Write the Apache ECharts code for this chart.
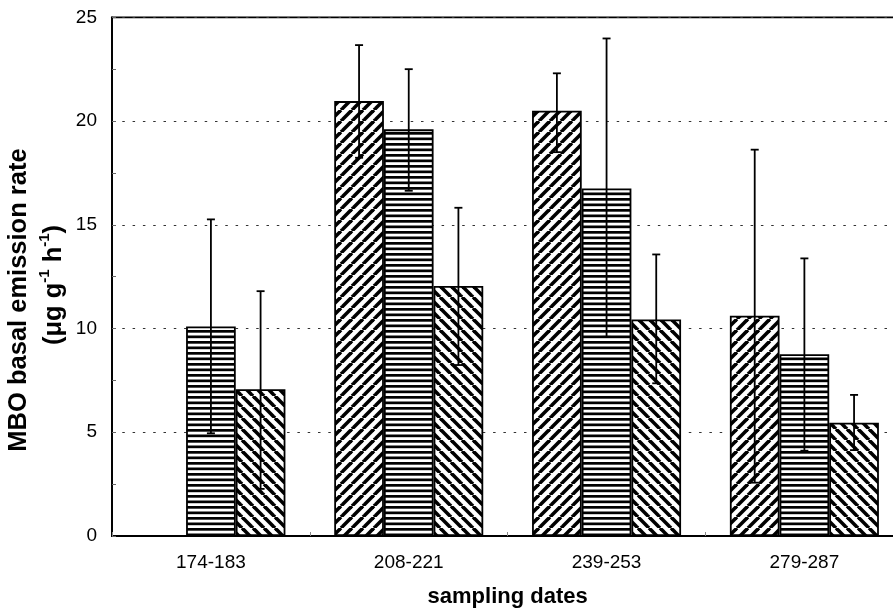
<!DOCTYPE html>
<html><head><meta charset="utf-8">
<script src="https://cdn.jsdelivr.net/npm/echarts@6/dist/echarts.min.js"></script>
<style>html,body{margin:0;padding:0;background:#fff}#c{width:893px;height:611px}</style>
</head><body><div id="c"></div>
<script>
// ---- data ----
const categories = ['174-183', '208-221', '239-253', '279-287'];
const seriesA = [null, 20.96, 20.5, 10.62];   // forward-hatched bars
const seriesB = [10.1, 19.6, 16.75, 8.76];    // horizontal-striped bars
const seriesC = [7.07, 12.05, 10.44, 5.46];   // back-hatched bars
const lowA  = [null, 18.23, 18.5, 2.57];
const highA = [null, 23.66, 22.3, 18.62];
const lowB  = [4.95, 16.64, 9.6, 4.11];
const highB = [15.26, 22.5, 23.98, 13.38];
const lowC  = [2.27, 8.24, 7.36, 4.14];
const highC = [11.8, 15.82, 13.57, 6.8];
const yTickLabels = ['0', '5', '10', '15', '20', '25'];

const FONT = '"Liberation Sans", Arial, Helvetica, sans-serif';
const BAR_FRAC = 0.2511;

function hatch(type) {
  const s = type === 'h' ? 11 : 11;
  const c = document.createElement('canvas');
  c.width = s; c.height = s;
  const g = c.getContext('2d');
  g.fillStyle = '#fff'; g.fillRect(0, 0, s, s);
  g.fillStyle = '#000'; g.strokeStyle = '#000';
  if (type === 'h') {
    g.fillRect(0, 0, s, 2.7);
    g.fillRect(0, 5.5, s, 2.7);
  } else {
    g.lineWidth = 3.6;
    for (let k = -1; k <= 1; k++) {
      g.beginPath();
      if (type === 'f') { g.moveTo(k * s, s); g.lineTo(k * s + s, 0); }
      else { g.moveTo(k * s, 0); g.lineTo(k * s + s, s); }
      g.stroke();
    }
  }
  return { image: c, repeat: 'repeat' };
}

function errData(lo, hi, k) {
  const out = [];
  lo.forEach((v, i) => { if (v != null) out.push([i, v, hi[i], k]); });
  return out;
}
const errorItems = [].concat(errData(lowA, highA, 0), errData(lowB, highB, 1), errData(lowC, highC, 2));

const barStyle = (pat) => ({ color: pat, borderColor: '#000', borderWidth: 1.8 });

const chart = echarts.init(document.getElementById('c'), null, { renderer: 'canvas' });
chart.setOption({
  animation: false,
  backgroundColor: '#fff',
  grid: { left: 112, top: 17.3, right: -10.3, bottom: 75, show: true, borderColor: '#000', borderWidth: 1.8, backgroundColor: 'transparent', containLabel: false, outerBoundsMode: 'none' },
  xAxis: {
    type: 'category', data: categories, boundaryGap: true,
    axisLine: { lineStyle: { color: '#000', width: 1.8 } },
    axisTick: { show: true, inside: true, length: 4, lineStyle: { color: '#888' } },
    axisLabel: { color: '#000', fontSize: 19, fontFamily: FONT, margin: 17 },
    name: 'sampling dates', nameLocation: 'middle', nameGap: 50,
    nameTextStyle: { color: '#000', fontSize: 22, fontWeight: 'bold', fontFamily: FONT },
    splitLine: { show: false }
  },
  yAxis: {
    type: 'value', min: 0, max: 25, interval: 5,
    axisLine: { show: true, lineStyle: { color: '#000', width: 1.8 } },
    axisTick: { show: true, inside: true, length: 4, lineStyle: { color: '#666' } },
    minorTick: { show: true, splitNumber: 2, length: 4, lineStyle: { color: '#666' } },
    axisLabel: { color: '#000', fontSize: 19, fontFamily: FONT, margin: 15,
      formatter: (v) => yTickLabels[Math.round(v / 5)] },
    splitLine: { show: true, lineStyle: { color: '#333', width: 1.2, type: [2.5, 7.8] } }
  },
  graphic: [
    { type: 'text', x: 19, y: 300, rotation: Math.PI / 2,
      style: { text: 'MBO basal emission rate', font: 'bold 25.5px ' + FONT, fill: '#000', align: 'center', verticalAlign: 'middle' } },
    { type: 'text', x: 52, y: 285, rotation: Math.PI / 2,
      style: { text: '{n|(μg g}{s|-1}{n| h}{s|-1}{n|)}', align: 'center', verticalAlign: 'middle', fill: '#000',
        rich: {
          n: { fontSize: 25.5, fontWeight: 'bold', fontFamily: FONT, lineHeight: 30, verticalAlign: 'bottom' },
          s: { fontSize: 15, fontWeight: 'bold', fontFamily: FONT, lineHeight: 30, verticalAlign: 'top' }
        } } }
  ],
  series: [
    { type: 'bar', data: seriesA, barWidth: (BAR_FRAC * 100) + '%', barGap: '0%', itemStyle: barStyle(hatch('f')), z: 2 },
    { type: 'bar', data: seriesB, barWidth: (BAR_FRAC * 100) + '%', barGap: '0%', itemStyle: barStyle(hatch('h')), z: 2 },
    { type: 'bar', data: seriesC, barWidth: (BAR_FRAC * 100) + '%', barGap: '0%', itemStyle: barStyle(hatch('b')), z: 2 },
    { type: 'custom', data: errorItems, z: 5,
      renderItem: (params, api) => {
        const ci = api.value(0), lo = api.value(1), hi = api.value(2), k = api.value(3);
        const pLo = api.coord([ci, lo]);
        const pHi = api.coord([ci, hi]);
        const band = api.size([1, 0])[0];
        const x = pLo[0] + (k - 1) * band * BAR_FRAC;
        const cap = 4;
        const st = { stroke: '#000', lineWidth: 1.8 };
        return { type: 'group', children: [
          { type: 'line', shape: { x1: x, y1: pLo[1], x2: x, y2: pHi[1] }, style: st },
          { type: 'line', shape: { x1: x - cap, y1: pHi[1], x2: x + cap, y2: pHi[1] }, style: st },
          { type: 'line', shape: { x1: x - cap, y1: pLo[1], x2: x + cap, y2: pLo[1] }, style: st }
        ] };
      }
    }
  ]
});
</script></body></html>
